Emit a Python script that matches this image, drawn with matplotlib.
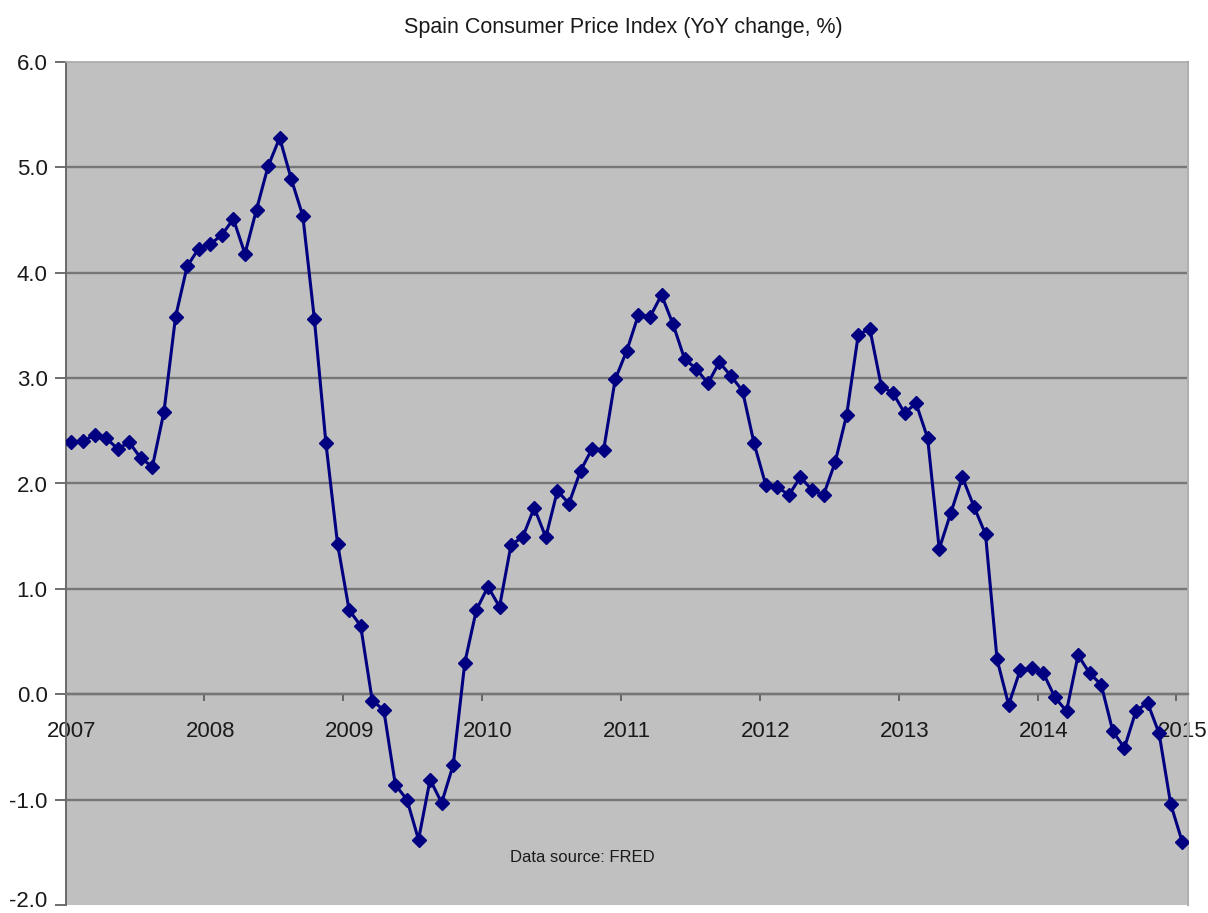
import matplotlib
matplotlib.use("Agg")
import matplotlib.pyplot as plt
import matplotlib.transforms as mtransforms
import numpy as np

plt.rcParams['font.family'] = ['Liberation Sans', 'DejaVu Sans']
plt.rcParams['axes.unicode_minus'] = False

title = "Spain Consumer Price Index (YoY change, %)"
source_note = "Data source: FRED"
year_labels = ["2007", "2008", "2009", "2010", "2011", "2012", "2013", "2014", "2015"]
y_ticks = [-2.0, -1.0, 0.0, 1.0, 2.0, 3.0, 4.0, 5.0, 6.0]

# Monthly YoY CPI change, Jan 2007 .. Jan 2015
cpi_2007 = [2.39, 2.40, 2.46, 2.43, 2.33, 2.39, 2.24, 2.16, 2.68, 3.58, 4.06, 4.23]
cpi_2008 = [4.27, 4.36, 4.51, 4.18, 4.60, 5.01, 5.28, 4.89, 4.54, 3.56, 2.38, 1.43]
cpi_2009 = [0.80, 0.65, -0.06, -0.15, -0.86, -1.00, -1.38, -0.81, -1.03, -0.67, 0.30, 0.80]
cpi_2010 = [1.02, 0.83, 1.42, 1.49, 1.77, 1.49, 1.93, 1.81, 2.12, 2.33, 2.32, 2.99]
cpi_2011 = [3.26, 3.60, 3.58, 3.79, 3.51, 3.18, 3.09, 2.95, 3.15, 3.02, 2.88, 2.38]
cpi_2012 = [1.99, 1.97, 1.89, 2.06, 1.94, 1.89, 2.20, 2.65, 3.41, 3.47, 2.92, 2.86]
cpi_2013 = [2.67, 2.76, 2.43, 1.38, 1.72, 2.06, 1.78, 1.52, 0.33, -0.10, 0.23, 0.25]
cpi_2014 = [0.20, -0.03, -0.16, 0.37, 0.20, 0.09, -0.35, -0.51, -0.16, -0.08, -0.37, -1.04]
cpi_2015 = [-1.40]

values = (cpi_2007 + cpi_2008 + cpi_2009 + cpi_2010 + cpi_2011 +
          cpi_2012 + cpi_2013 + cpi_2014 + cpi_2015)
n = len(values)
x = np.arange(n) + 0.5  # month index, centred in month slot

fig = plt.figure(figsize=(12.08, 9.13), dpi=100)
ax = fig.add_axes([65.6 / 1208, 1 - 905 / 913, (1188 - 65.6) / 1208, (905 - 62) / 913])
ax.set_facecolor('#c0c0c0')

grid_color = '#767676'
for v in y_ticks:
    if v not in (-2.0, 6.0):
        ax.axhline(v, color=grid_color, lw=1.7, zorder=1)

ax.plot(x, values, color='#000080', lw=2.2, marker='D', ms=7.6,
        markerfacecolor='#000080', markeredgecolor='#000080', zorder=3)

ax.set_xlim(0, n)
ax.set_ylim(-2, 6)
ax.set_yticks(y_ticks)
ax.set_yticklabels([f"{v:.1f}" for v in y_ticks])

# x axis crosses at zero
ax.spines['bottom'].set_position(('data', 0))
ax.spines['bottom'].set_color(grid_color)
ax.spines['bottom'].set_linewidth(1.7)
ax.spines['left'].set_color('#6a6a6a')
ax.spines['left'].set_linewidth(1.4)
ax.spines['top'].set_color('#a8a8a8')
ax.spines['top'].set_linewidth(1.2)
ax.spines['right'].set_color('#b0b0b0')
ax.spines['right'].set_linewidth(1.5)

year_pos = np.arange(len(year_labels)) * 12
ax.set_xticks(year_pos)
ax.set_xticklabels([])
ax.set_xticks(year_pos + 0.5, minor=True)
ax.set_xticklabels(year_labels, minor=True)
ax.tick_params(axis='x', which='major', direction='out', length=5, width=1.2, color='#555555')
ax.tick_params(axis='x', which='minor', length=0, pad=19, labelsize=16, labelcolor='#1a1a1a')
ax.tick_params(axis='y', direction='out', length=8, width=1.2, color='#555555',
               pad=5, labelsize=16, labelcolor='#1a1a1a')

# nudge the lowest y label up slightly so it is not clipped at the figure edge
low_label = ax.yaxis.get_major_ticks()[0].label1
low_label.set_transform(low_label.get_transform() +
                        mtransforms.ScaledTranslation(0, 4 / 72, fig.dpi_scale_trans))

ax.text(0.46, 0.0558, source_note, transform=ax.transAxes, ha='center', va='center',
        fontsize=12, color='#1a1a1a')

fig.text(623 / 1208, 1 - 28 / 913, title, ha='center', va='center',
         fontsize=15.5, color='#1a1a1a')

fig.savefig("out.png", dpi=100, facecolor='white')
